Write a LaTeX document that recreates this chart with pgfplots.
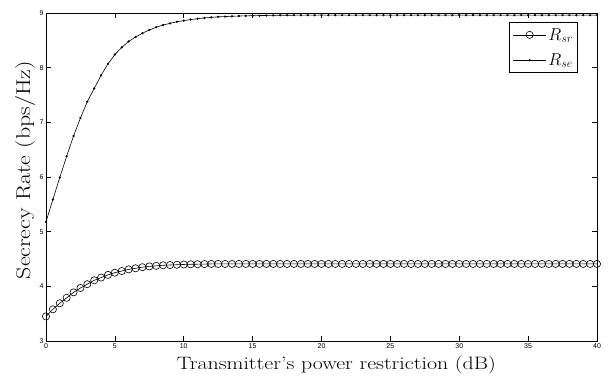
\documentclass[border=0pt]{standalone}
\usepackage{pgfplots}
\pgfplotsset{compat=1.18}
\usepackage{pgfplotstable}
\usepackage{graphicx}
\usepackage{fontspec}
\newfontfamily\tickfont{Liberation Sans}
\pgfplotstableread{
x rsr rse
0 3.45 5.18
0.5 3.58 5.59
1 3.69 5.99
1.5 3.79 6.38
2 3.89 6.75
2.5 3.97 7.08
3 4.04 7.38
3.5 4.11 7.62
4 4.16 7.86
4.5 4.21 8.07
5 4.25 8.24
5.5 4.28 8.37
6 4.31 8.48
6.5 4.33 8.56
7 4.35 8.63
7.5 4.365 8.69
8 4.375 8.74
8.5 4.385 8.78
9 4.39 8.81
9.5 4.395 8.84
10 4.40 8.86
10.5 4.403 8.88
11 4.405 8.895
11.5 4.407 8.91
12 4.41 8.92
12.5 4.41 8.93
13 4.41 8.935
13.5 4.41 8.94
14 4.41 8.945
14.5 4.41 8.948
15 4.41 8.95
15.5 4.41 8.953
16 4.41 8.955
16.5 4.41 8.957
17 4.41 8.958
17.5 4.41 8.959
18 4.41 8.96
18.5 4.41 8.96
19 4.41 8.96
19.5 4.41 8.96
20 4.41 8.96
20.5 4.41 8.96
21 4.41 8.96
21.5 4.41 8.96
22 4.41 8.96
22.5 4.41 8.96
23 4.41 8.96
23.5 4.41 8.96
24 4.41 8.96
24.5 4.41 8.96
25 4.41 8.96
25.5 4.41 8.96
26 4.41 8.96
26.5 4.41 8.96
27 4.41 8.96
27.5 4.41 8.96
28 4.41 8.96
28.5 4.41 8.96
29 4.41 8.96
29.5 4.41 8.96
30 4.41 8.96
30.5 4.41 8.96
31 4.41 8.96
31.5 4.41 8.96
32 4.41 8.96
32.5 4.41 8.96
33 4.41 8.96
33.5 4.41 8.96
34 4.41 8.96
34.5 4.41 8.96
35 4.41 8.96
35.5 4.41 8.96
36 4.41 8.96
36.5 4.41 8.96
37 4.41 8.96
37.5 4.41 8.96
38 4.41 8.96
38.5 4.41 8.96
39 4.41 8.96
39.5 4.41 8.96
40 4.41 8.96
}\datatable
\begin{document}
\begin{tikzpicture}
\begin{axis}[
  at={(0,0)}, anchor=south west,
  scale only axis,
  width=551bp, height=328bp,
  xmin=0, xmax=40, ymin=3, ymax=9,
  xtick={0,5,...,40}, ytick={3,4,...,9},
  tick align=inside,
  major tick length=5bp,
  axis line style={line width=0.8bp},
  every tick/.style={line width=0.6bp, black},
  tick label style={font=\tickfont\fontsize{7}{8}\selectfont},
  xticklabel style={yshift=1bp},
  yticklabel style={xshift=1bp},
  /pgf/number format/assume math mode=true,
  xlabel={\scalebox{1.22}[1]{Transmitter's power restriction (dB)}},
  ylabel={\scalebox{1.2}[1]{Secrecy Rate (bps/Hz)}},
  xlabel style={font=\fontsize{18}{20}\selectfont, at={(axis description cs:0.527,-0.0869)}, anchor=base},
  ylabel style={font=\fontsize{20}{22}\selectfont, at={(axis description cs:-0.029,0.521)}, anchor=base},
  legend style={at={(0.966,0.973)}, anchor=north east, draw=black, line width=0.8bp,
    font=\fontsize{17}{19}\selectfont, inner xsep=3bp, inner ysep=4bp, row sep=8bp},
  legend cell align=left,
  legend image code/.code={
    \draw[mark repeat=2,mark phase=2,#1] plot coordinates {(0bp,0bp) (16.5bp,0bp) (33bp,0bp)};
  },
]
\addplot[black, line width=0.6bp, mark=o, mark size=3.6bp, mark options={line width=0.6bp}] table[x=x, y=rsr] {\datatable};
\addlegendentry{$R_{sr}$}
\addplot[black, line width=0.6bp, mark=*, mark size=0.8bp] table[x=x, y=rse] {\datatable};
\addlegendentry{$R_{se}$}
\end{axis}
\pgfresetboundingbox
\path (-46bp,-35bp) rectangle (568bp,341bp);
\end{tikzpicture}
\end{document}
